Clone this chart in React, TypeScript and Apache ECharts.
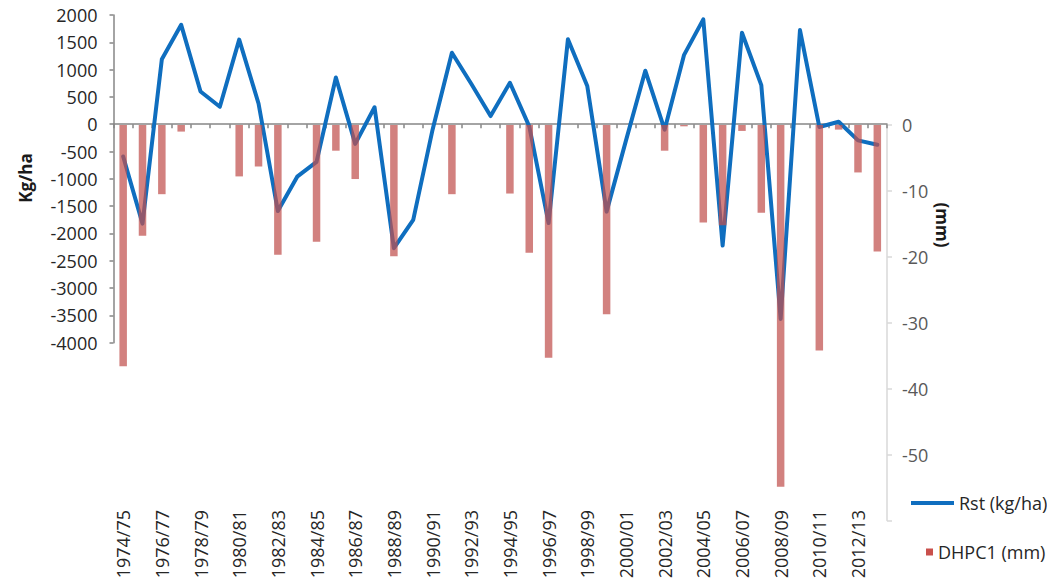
import React, { useEffect, useRef } from "react";
import * as echarts from "echarts";

const categories = [
  "1974/75", "1975/76", "1976/77", "1977/78", "1978/79", "1979/80", "1980/81", "1981/82",
  "1982/83", "1983/84", "1984/85", "1985/86", "1986/87", "1987/88", "1988/89", "1989/90",
  "1990/91", "1991/92", "1992/93", "1993/94", "1994/95", "1995/96", "1996/97", "1997/98",
  "1998/99", "1999/00", "2000/01", "2001/02", "2002/03", "2003/04", "2004/05", "2005/06",
  "2006/07", "2007/08", "2008/09", "2009/10", "2010/11", "2011/12", "2012/13", "2013/14",
];

const rstValues = [
  -590, -1820, 1190, 1820, 600, 320, 1550, 380,
  -1590, -960, -690, 855, -360, 310, -2270, -1750,
  -100, 1310, 740, 150, 760, -40, -1810, 1555,
  700, -1600, -300, 980, -100, 1265, 1920, -2220,
  1675, 715, -3565, 1725, -50, 45, -295, -375,
];

const dhpcValues = [
  -36.6, -16.8, -10.5, -1.0, 0, 0, -7.8, -6.3,
  -19.7, 0, -17.7, -3.9, -8.2, 0, -19.9, 0,
  0, -10.5, 0, 0, -10.4, -19.4, -35.3, 0,
  0, -28.7, 0, 0, -3.9, -0.2, -14.8, -15.2,
  -0.9, -13.3, -54.9, 0, -34.2, -0.7, -7.2, -19.2,
];

const leftTicks = { min: -4000, max: 2000, interval: 500 };
const rightTicks = { min: -60, max: 0, interval: 10 };

const FONT = "'Open Sans', sans-serif";

export default function App() {
  const ref = useRef<HTMLDivElement>(null);

  useEffect(() => {
    if (!ref.current) return;
    const chart = echarts.init(ref.current, undefined, { renderer: "svg" });
    const gridBase = { left: 113.5, right: 160 };
    chart.setOption({
      animation: false,
      backgroundColor: "#ffffff",
      textStyle: { fontFamily: FONT },
      grid: [
        { ...gridBase, top: 15, height: 327.7 },
        { ...gridBase, top: 125, height: 395.4 },
        { ...gridBase, top: 400, height: 105 },
      ],
      xAxis: [
        {
          gridIndex: 0,
          type: "category",
          data: categories,
          boundaryGap: true,
          axisLine: { onZero: true, lineStyle: { color: "#868686", width: 1.5 } },
          axisTick: { show: true, length: 4, interval: 0, lineStyle: { color: "#868686", width: 1.5 } },
          axisLabel: { show: false },
          splitLine: { show: false },
        },
        {
          gridIndex: 1,
          type: "category",
          data: categories,
          boundaryGap: true,
          show: false,
        },
        {
          gridIndex: 2,
          type: "category",
          data: categories,
          boundaryGap: true,
          axisLine: { show: false },
          axisTick: { show: false },
          axisLabel: {
            show: true,
            rotate: 90,
            interval: 1,
            margin: 5,
            fontSize: 18,
            color: "#262626",
            fontFamily: FONT,
          },
          splitLine: { show: false },
        },
      ],
      yAxis: [
        {
          gridIndex: 0,
          type: "value",
          min: leftTicks.min,
          max: leftTicks.max,
          interval: leftTicks.interval,
          axisLine: { show: true, lineStyle: { color: "#868686", width: 1.5 } },
          axisTick: { show: true, length: 4, lineStyle: { color: "#868686", width: 1.5 } },
          axisLabel: {
            fontSize: 18,
            color: "#262626",
            margin: 16,
            fontFamily: FONT,
            formatter: (v: number) => String(v),
          },
          splitLine: { show: false },
        },
        {
          gridIndex: 1,
          type: "value",
          position: "right",
          min: rightTicks.min,
          max: rightTicks.max,
          interval: rightTicks.interval,
          axisLine: { show: true, lineStyle: { color: "#d9d9d9", width: 1.5 } },
          axisTick: { show: true, length: 5, lineStyle: { color: "#d9d9d9", width: 1.5 } },
          axisLabel: {
            fontSize: 18,
            color: "#595959",
            margin: 15,
            fontFamily: FONT,
            formatter: (v: number) => (v === rightTicks.min ? "" : String(v)),
          },
          splitLine: { show: false },
        },
        {
          gridIndex: 2,
          type: "value",
          show: false,
        },
      ],
      legend: [
        {
          data: [{ name: "Rst (kg/ha)" }],
          left: 906,
          top: 489,
          icon: "rect",
          itemWidth: 43,
          itemHeight: 4,
          textStyle: { fontSize: 18, color: "#262626", fontFamily: FONT },
          selectedMode: false,
        },
        {
          data: [{ name: "DHPC1 (mm)", itemStyle: { color: "#c9504c" } }],
          left: 921,
          top: 538,
          icon: "rect",
          itemWidth: 7,
          itemHeight: 7,
          textStyle: { fontSize: 18, color: "#262626", fontFamily: FONT },
          selectedMode: false,
        },
      ],
      graphic: [
        {
          type: "text",
          x: 25,
          y: 178,
          rotation: Math.PI / 2,
          style: {
            text: "Kg/ha",
            fontSize: 17,
            fontWeight: "bold",
            fontFamily: FONT,
            fill: "#1a1a1a",
            align: "center",
            verticalAlign: "middle",
          },
        },
        {
          type: "text",
          x: 942,
          y: 225,
          rotation: -Math.PI / 2,
          style: {
            text: "(mm)",
            fontSize: 17,
            fontWeight: "bold",
            fontFamily: FONT,
            fill: "#1a1a1a",
            align: "center",
            verticalAlign: "middle",
          },
        },
      ],
      series: [
        {
          name: "Rst (kg/ha)",
          type: "line",
          xAxisIndex: 0,
          yAxisIndex: 0,
          data: rstValues,
          showSymbol: false,
          symbol: "none",
          lineStyle: { color: "#0f6ebf", width: 4, cap: "round", join: "round" },
          itemStyle: { color: "#0f6ebf" },
          z: 2,
        },
        {
          name: "DHPC1 (mm)",
          type: "bar",
          xAxisIndex: 1,
          yAxisIndex: 1,
          data: dhpcValues,
          barWidth: 7.5,
          itemStyle: { color: "rgba(192,80,77,0.72)" },
          z: 3,
        },
      ],
    });
    return () => chart.dispose();
  }, []);

  return (
    <div
      ref={ref}
      style={{ position: "fixed", left: 0, top: 0, width: 1047, height: 584 }}
    />
  );
}
